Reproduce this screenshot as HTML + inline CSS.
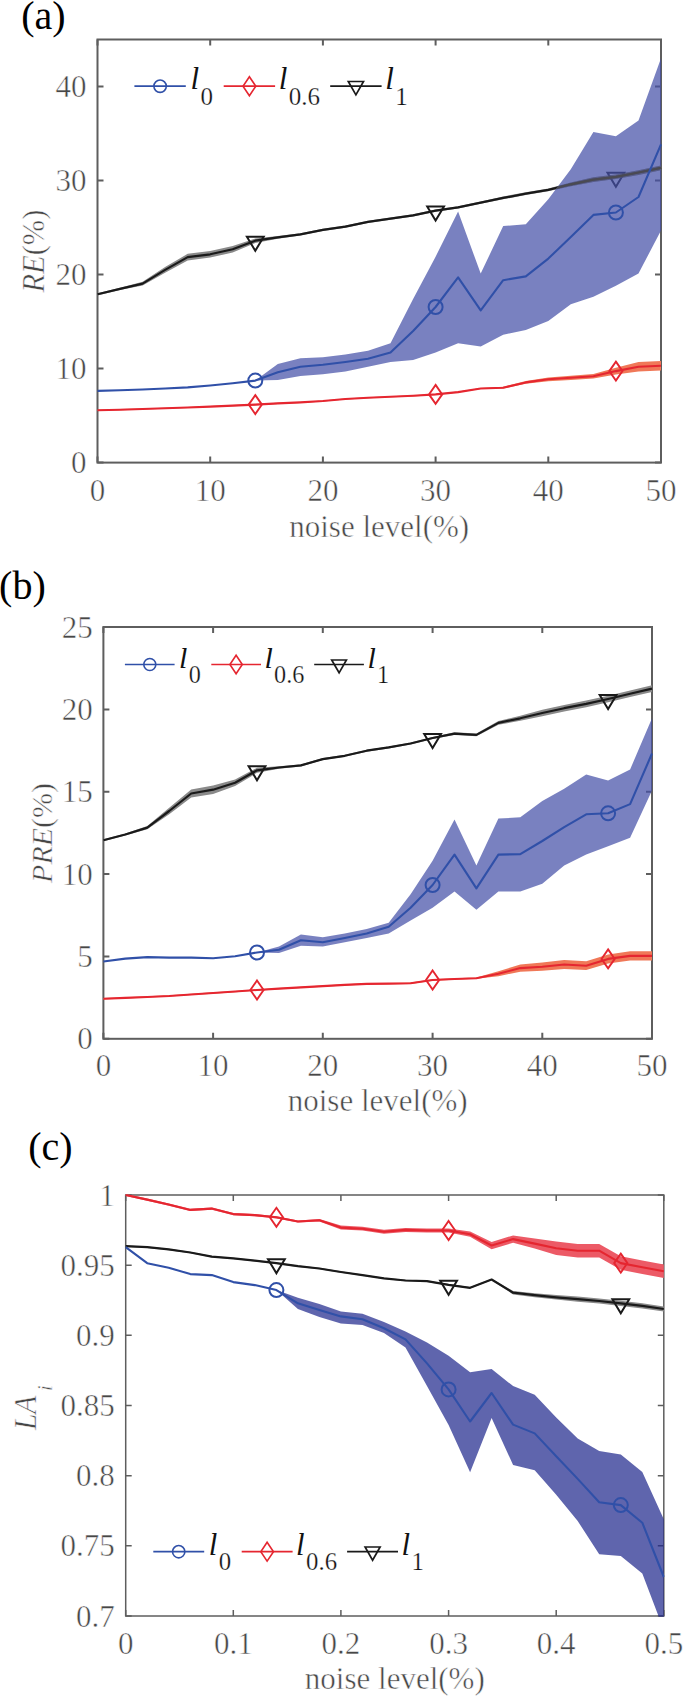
<!DOCTYPE html>
<html><head><meta charset="utf-8"><style>
html,body{margin:0;padding:0;background:#fff;overflow:hidden;width:685px;height:1696px;}
svg{display:block;}
.t{font-family:"Liberation Serif",serif;fill:#474747;stroke:#fff;stroke-width:0.5px;}
.lg{fill:#111;}
.p{font-family:"Liberation Serif",serif;fill:#000;}
</style></head><body>
<svg width="685" height="1696" viewBox="0 0 685 1696">
<rect width="685" height="1696" fill="#fff"/>
<rect x="97.5" y="39.5" width="563.5" height="423.1" fill="none" stroke="#5e5e5e" stroke-width="2.0"/>
<path d="M97.5,462.6v-6M97.5,39.5v6M210.2,462.6v-6M210.2,39.5v6M322.9,462.6v-6M322.9,39.5v6M435.6,462.6v-6M435.6,39.5v6M548.3,462.6v-6M548.3,39.5v6M661.0,462.6v-6M661.0,39.5v6M97.5,462.6h6M661.0,462.6h-6M97.5,368.6h6M661.0,368.6h-6M97.5,274.6h6M661.0,274.6h-6M97.5,180.5h6M661.0,180.5h-6M97.5,86.5h6M661.0,86.5h-6" stroke="#5e5e5e" stroke-width="2.0" fill="none"/>
<clipPath id="clipa"><rect x="96.5" y="38.5" width="565.5" height="425.1"/></clipPath>
<g clip-path="url(#clipa)">
<polygon points="97.5,293.2 120.0,287.8 142.6,281.7 165.1,267.0 187.7,253.8 210.2,251.1 232.7,245.9 255.3,238.4 277.8,236.0 300.4,233.3 322.9,228.8 345.4,225.5 368.0,220.8 390.5,217.5 413.1,214.2 435.6,209.5 458.1,206.2 480.7,201.5 503.2,196.5 525.8,192.3 548.3,188.5 570.8,182.4 593.4,177.2 615.9,174.4 638.5,170.2 661.0,165.5 661.0,170.2 638.5,174.9 615.9,179.1 593.4,181.9 570.8,186.2 548.3,191.3 525.8,195.1 503.2,199.3 480.7,203.8 458.1,208.5 435.6,211.7 413.1,216.4 390.5,219.7 368.0,223.0 345.4,227.7 322.9,231.0 300.4,235.5 277.8,238.8 255.3,243.1 232.7,252.5 210.2,257.6 187.7,260.4 165.1,272.7 142.6,285.5 120.0,290.1 97.5,295.4" fill="#8a8a8a" />
<polyline points="97.5,294.3 120.0,288.9 142.6,283.6 165.1,269.9 187.7,257.1 210.2,254.3 232.7,249.2 255.3,240.7 277.8,237.4 300.4,234.4 322.9,229.9 345.4,226.6 368.0,221.9 390.5,218.6 413.1,215.3 435.6,210.6 458.1,207.3 480.7,202.6 503.2,197.9 525.8,193.7 548.3,189.9 570.8,184.3 593.4,179.6 615.9,176.8 638.5,172.5 661.0,167.8" fill="none" stroke="#1A1A1A" stroke-width="2.2" stroke-linejoin="round"/>
<polygon points="246.9,236.7 263.7,236.7 255.3,250.7" fill="none" stroke="#1A1A1A" stroke-width="2" stroke-linejoin="miter"/>
<polygon points="427.2,206.6 444.0,206.6 435.6,220.6" fill="none" stroke="#1A1A1A" stroke-width="2" stroke-linejoin="miter"/>
<polygon points="607.5,172.8 624.3,172.8 615.9,186.8" fill="none" stroke="#1A1A1A" stroke-width="2" stroke-linejoin="miter"/>
<polygon points="97.5,409.7 120.0,409.1 142.6,408.4 165.1,407.7 187.7,406.9 210.2,406.0 232.7,405.1 255.3,404.0 277.8,402.8 300.4,401.9 322.9,400.5 345.4,398.5 368.0,397.2 390.5,396.2 413.1,395.3 435.6,393.9 458.1,391.5 480.7,387.9 503.2,386.7 525.8,381.0 548.3,377.4 570.8,375.7 593.4,373.9 615.9,367.8 638.5,362.0 661.0,361.1 661.0,370.5 638.5,371.4 615.9,374.4 593.4,378.6 570.8,379.9 548.3,381.2 525.8,383.8 503.2,388.6 480.7,389.1 458.1,392.6 435.6,395.0 413.1,396.4 390.5,397.3 368.0,398.3 345.4,399.6 322.9,401.6 300.4,403.0 277.8,403.9 255.3,405.2 232.7,406.2 210.2,407.1 187.7,408.1 165.1,408.8 142.6,409.6 120.0,410.2 97.5,410.8" fill="#F07858" />
<polyline points="97.5,410.2 120.0,409.7 142.6,409.0 165.1,408.3 187.7,407.5 210.2,406.6 232.7,405.6 255.3,404.6 277.8,403.4 300.4,402.4 322.9,401.0 345.4,399.0 368.0,397.7 390.5,396.8 413.1,395.8 435.6,394.4 458.1,392.1 480.7,388.5 503.2,387.7 525.8,382.4 548.3,379.3 570.8,377.8 593.4,376.3 615.9,371.1 638.5,366.7 661.0,365.8" fill="none" stroke="#E52630" stroke-width="2.1" stroke-linejoin="round"/>
<polygon points="255.3,395.1 261.9,404.6 255.3,414.1 248.7,404.6" fill="none" stroke="#E52630" stroke-width="1.9"/>
<polygon points="435.6,384.9 442.2,394.4 435.6,403.9 429.0,394.4" fill="none" stroke="#E52630" stroke-width="1.9"/>
<polygon points="615.9,361.6 622.5,371.1 615.9,380.6 609.3,371.1" fill="none" stroke="#E52630" stroke-width="1.9"/>
<polygon points="97.5,390.9 120.0,390.2 142.6,389.5 165.1,388.5 187.7,387.4 210.2,385.5 232.7,383.2 255.3,380.6 277.8,363.9 300.4,358.2 322.9,357.3 345.4,354.5 368.0,350.7 390.5,343.2 413.1,299.0 435.6,256.7 458.1,211.6 480.7,273.6 503.2,226.1 525.8,224.3 548.3,199.3 570.8,169.3 593.4,132.1 615.9,136.3 638.5,120.4 661.0,58.3 661.0,230.4 638.5,273.6 615.9,285.8 593.4,296.7 570.8,304.2 548.3,321.1 525.8,330.0 503.2,334.7 480.7,346.5 458.1,343.2 435.6,352.6 413.1,360.1 390.5,362.0 368.0,366.7 345.4,371.4 322.9,374.2 300.4,376.1 277.8,379.9 255.3,380.6 232.7,383.2 210.2,385.5 187.7,387.4 165.1,388.5 142.6,389.5 120.0,390.2 97.5,390.9" fill="#4550A8" fill-opacity="0.72"/>
<clipPath id="bca"><polygon points="97.5,390.9 120.0,390.2 142.6,389.5 165.1,388.5 187.7,387.4 210.2,385.5 232.7,383.2 255.3,380.6 277.8,363.9 300.4,358.2 322.9,357.3 345.4,354.5 368.0,350.7 390.5,343.2 413.1,299.0 435.6,256.7 458.1,211.6 480.7,273.6 503.2,226.1 525.8,224.3 548.3,199.3 570.8,169.3 593.4,132.1 615.9,136.3 638.5,120.4 661.0,58.3 661.0,230.4 638.5,273.6 615.9,285.8 593.4,296.7 570.8,304.2 548.3,321.1 525.8,330.0 503.2,334.7 480.7,346.5 458.1,343.2 435.6,352.6 413.1,360.1 390.5,362.0 368.0,366.7 345.4,371.4 322.9,374.2 300.4,376.1 277.8,379.9 255.3,380.6 232.7,383.2 210.2,385.5 187.7,387.4 165.1,388.5 142.6,389.5 120.0,390.2 97.5,390.9"/></clipPath>
<g clip-path="url(#bca)">
<polygon points="97.5,293.2 120.0,287.8 142.6,281.7 165.1,267.0 187.7,253.8 210.2,251.1 232.7,245.9 255.3,238.4 277.8,236.0 300.4,233.3 322.9,228.8 345.4,225.5 368.0,220.8 390.5,217.5 413.1,214.2 435.6,209.5 458.1,206.2 480.7,201.5 503.2,196.5 525.8,192.3 548.3,188.5 570.8,182.4 593.4,177.2 615.9,174.4 638.5,170.2 661.0,165.5 661.0,170.2 638.5,174.9 615.9,179.1 593.4,181.9 570.8,186.2 548.3,191.3 525.8,195.1 503.2,199.3 480.7,203.8 458.1,208.5 435.6,211.7 413.1,216.4 390.5,219.7 368.0,223.0 345.4,227.7 322.9,231.0 300.4,235.5 277.8,238.8 255.3,243.1 232.7,252.5 210.2,257.6 187.7,260.4 165.1,272.7 142.6,285.5 120.0,290.1 97.5,295.4" fill="#5a5a66" fill-opacity="0.4"/>
<polyline points="97.5,294.3 120.0,288.9 142.6,283.6 165.1,269.9 187.7,257.1 210.2,254.3 232.7,249.2 255.3,240.7 277.8,237.4 300.4,234.4 322.9,229.9 345.4,226.6 368.0,221.9 390.5,218.6 413.1,215.3 435.6,210.6 458.1,207.3 480.7,202.6 503.2,197.9 525.8,193.7 548.3,189.9 570.8,184.3 593.4,179.6 615.9,176.8 638.5,172.5 661.0,167.8" fill="none" stroke="#4a4a52" stroke-width="2.2" stroke-linejoin="round"/>
</g>
<polyline points="97.5,390.9 120.0,390.2 142.6,389.5 165.1,388.5 187.7,387.4 210.2,385.5 232.7,383.2 255.3,380.6 277.8,372.3 300.4,366.7 322.9,364.8 345.4,362.0 368.0,358.7 390.5,352.6 413.1,331.0 435.6,307.0 458.1,277.4 480.7,310.3 503.2,280.2 525.8,276.4 548.3,258.6 570.8,236.9 593.4,214.9 615.9,212.5 638.5,197.0 661.0,144.3" fill="none" stroke="#3050A8" stroke-width="2.1" stroke-linejoin="round"/>
<circle cx="255.3" cy="380.6" r="7" fill="none" stroke="#3050A8" stroke-width="2"/>
<circle cx="435.6" cy="307.0" r="7" fill="none" stroke="#3050A8" stroke-width="2"/>
<circle cx="615.9" cy="212.5" r="7" fill="none" stroke="#3050A8" stroke-width="2"/>
</g>
<rect x="103.4" y="627.0" width="548.6" height="411.8" fill="none" stroke="#5e5e5e" stroke-width="2.0"/>
<path d="M103.4,1038.8v-6M103.4,627.0v6M213.1,1038.8v-6M213.1,627.0v6M322.8,1038.8v-6M322.8,627.0v6M432.6,1038.8v-6M432.6,627.0v6M542.3,1038.8v-6M542.3,627.0v6M652.0,1038.8v-6M652.0,627.0v6M103.4,1038.8h6M652.0,1038.8h-6M103.4,956.4h6M652.0,956.4h-6M103.4,874.1h6M652.0,874.1h-6M103.4,791.7h6M652.0,791.7h-6M103.4,709.4h6M652.0,709.4h-6M103.4,627.0h6M652.0,627.0h-6" stroke="#5e5e5e" stroke-width="2.0" fill="none"/>
<clipPath id="clipb"><rect x="102.4" y="626.0" width="550.6" height="413.8"/></clipPath>
<g clip-path="url(#clipb)">
<polygon points="103.4,839.3 125.3,833.6 147.3,826.0 169.2,807.7 191.2,789.4 213.1,785.6 235.1,779.5 257.0,767.8 279.0,766.2 300.9,764.4 322.8,758.1 344.8,754.8 366.7,749.7 388.7,746.4 410.6,742.5 432.6,737.0 454.5,732.3 476.4,733.6 498.4,720.9 520.3,715.8 542.3,709.7 564.2,704.9 586.2,700.6 608.1,695.7 630.1,690.4 652.0,685.3 652.0,691.9 630.1,697.0 608.1,702.3 586.2,707.2 564.2,711.5 542.3,716.3 520.3,720.7 498.4,724.8 476.4,736.2 454.5,734.9 432.6,739.0 410.6,744.4 388.7,748.4 366.7,751.7 344.8,756.8 322.8,760.1 300.9,766.4 279.0,768.8 257.0,772.8 235.1,786.1 213.1,793.9 191.2,797.6 169.2,814.3 147.3,829.3 125.3,835.5 103.4,841.3" fill="#8a8a8a" />
<polyline points="103.4,840.3 125.3,834.5 147.3,827.6 169.2,811.0 191.2,793.5 213.1,789.7 235.1,782.8 257.0,770.3 279.0,767.5 300.9,765.4 322.8,759.1 344.8,755.8 366.7,750.7 388.7,747.4 410.6,743.5 432.6,738.0 454.5,733.6 476.4,734.9 498.4,722.9 520.3,718.3 542.3,713.0 564.2,708.2 586.2,703.9 608.1,699.0 630.1,693.7 652.0,688.6" fill="none" stroke="#1A1A1A" stroke-width="2.2" stroke-linejoin="round"/>
<polygon points="248.6,766.3 265.4,766.3 257.0,780.3" fill="none" stroke="#1A1A1A" stroke-width="2" stroke-linejoin="miter"/>
<polygon points="424.2,734.0 441.0,734.0 432.6,748.0" fill="none" stroke="#1A1A1A" stroke-width="2" stroke-linejoin="miter"/>
<polygon points="599.7,695.0 616.5,695.0 608.1,709.0" fill="none" stroke="#1A1A1A" stroke-width="2" stroke-linejoin="miter"/>
<polygon points="103.4,998.1 125.3,997.3 147.3,996.3 169.2,995.3 191.2,993.8 213.1,992.3 235.1,990.9 257.0,989.4 279.0,987.9 300.9,986.7 322.8,985.4 344.8,984.3 366.7,983.3 388.7,983.0 410.6,982.6 432.6,979.3 454.5,978.3 476.4,977.5 498.4,971.3 520.3,964.5 542.3,962.5 564.2,960.1 586.2,961.2 608.1,954.5 630.1,951.3 652.0,951.3 652.0,960.6 630.1,960.6 608.1,963.4 586.2,970.1 564.2,969.0 542.3,970.8 520.3,971.8 498.4,976.2 476.4,978.8 454.5,979.7 432.6,980.7 410.6,983.9 388.7,984.3 366.7,984.6 344.8,985.6 322.8,986.7 300.9,988.1 279.0,989.2 257.0,990.7 235.1,992.2 213.1,993.7 191.2,995.1 169.2,996.6 147.3,997.6 125.3,998.6 103.4,999.4" fill="#F07858" />
<polyline points="103.4,998.8 125.3,997.9 147.3,997.0 169.2,996.0 191.2,994.5 213.1,993.0 235.1,991.5 257.0,990.0 279.0,988.6 300.9,987.4 322.8,986.1 344.8,984.9 366.7,983.9 388.7,983.6 410.6,983.3 432.6,980.0 454.5,979.0 476.4,978.2 498.4,973.7 520.3,968.1 542.3,966.7 564.2,964.5 586.2,965.7 608.1,958.9 630.1,955.9 652.0,955.9" fill="none" stroke="#E52630" stroke-width="2.1" stroke-linejoin="round"/>
<polygon points="257.0,980.5 263.6,990.0 257.0,999.5 250.4,990.0" fill="none" stroke="#E52630" stroke-width="1.9"/>
<polygon points="432.6,970.5 439.2,980.0 432.6,989.5 426.0,980.0" fill="none" stroke="#E52630" stroke-width="1.9"/>
<polygon points="608.1,949.4 614.7,958.9 608.1,968.4 601.5,958.9" fill="none" stroke="#E52630" stroke-width="1.9"/>
<polygon points="103.4,961.5 125.3,958.6 147.3,957.1 169.2,957.6 191.2,957.6 213.1,958.3 235.1,956.3 257.0,952.5 279.0,946.4 300.9,934.5 322.8,937.3 344.8,933.5 366.7,928.9 388.7,922.8 410.6,894.3 432.6,860.7 454.5,819.4 476.4,865.5 498.4,818.6 520.3,817.3 542.3,801.1 564.2,788.8 586.2,774.4 608.1,780.5 630.1,769.5 652.0,718.3 652.0,790.4 630.1,837.8 608.1,846.2 586.2,854.6 564.2,865.5 542.3,883.8 520.3,891.5 498.4,891.5 476.4,909.8 454.5,891.5 432.6,907.7 410.6,920.5 388.7,933.5 366.7,938.0 344.8,942.3 322.8,946.4 300.9,945.7 279.0,953.1 257.0,952.5 235.1,956.3 213.1,958.3 191.2,957.6 169.2,957.6 147.3,957.1 125.3,958.6 103.4,961.5" fill="#4550A8" fill-opacity="0.72"/>
<clipPath id="bcb"><polygon points="103.4,961.5 125.3,958.6 147.3,957.1 169.2,957.6 191.2,957.6 213.1,958.3 235.1,956.3 257.0,952.5 279.0,946.4 300.9,934.5 322.8,937.3 344.8,933.5 366.7,928.9 388.7,922.8 410.6,894.3 432.6,860.7 454.5,819.4 476.4,865.5 498.4,818.6 520.3,817.3 542.3,801.1 564.2,788.8 586.2,774.4 608.1,780.5 630.1,769.5 652.0,718.3 652.0,790.4 630.1,837.8 608.1,846.2 586.2,854.6 564.2,865.5 542.3,883.8 520.3,891.5 498.4,891.5 476.4,909.8 454.5,891.5 432.6,907.7 410.6,920.5 388.7,933.5 366.7,938.0 344.8,942.3 322.8,946.4 300.9,945.7 279.0,953.1 257.0,952.5 235.1,956.3 213.1,958.3 191.2,957.6 169.2,957.6 147.3,957.1 125.3,958.6 103.4,961.5"/></clipPath>
<g clip-path="url(#bcb)">
<polygon points="103.4,839.3 125.3,833.6 147.3,826.0 169.2,807.7 191.2,789.4 213.1,785.6 235.1,779.5 257.0,767.8 279.0,766.2 300.9,764.4 322.8,758.1 344.8,754.8 366.7,749.7 388.7,746.4 410.6,742.5 432.6,737.0 454.5,732.3 476.4,733.6 498.4,720.9 520.3,715.8 542.3,709.7 564.2,704.9 586.2,700.6 608.1,695.7 630.1,690.4 652.0,685.3 652.0,691.9 630.1,697.0 608.1,702.3 586.2,707.2 564.2,711.5 542.3,716.3 520.3,720.7 498.4,724.8 476.4,736.2 454.5,734.9 432.6,739.0 410.6,744.4 388.7,748.4 366.7,751.7 344.8,756.8 322.8,760.1 300.9,766.4 279.0,768.8 257.0,772.8 235.1,786.1 213.1,793.9 191.2,797.6 169.2,814.3 147.3,829.3 125.3,835.5 103.4,841.3" fill="#5a5a66" fill-opacity="0.4"/>
<polyline points="103.4,840.3 125.3,834.5 147.3,827.6 169.2,811.0 191.2,793.5 213.1,789.7 235.1,782.8 257.0,770.3 279.0,767.5 300.9,765.4 322.8,759.1 344.8,755.8 366.7,750.7 388.7,747.4 410.6,743.5 432.6,738.0 454.5,733.6 476.4,734.9 498.4,722.9 520.3,718.3 542.3,713.0 564.2,708.2 586.2,703.9 608.1,699.0 630.1,693.7 652.0,688.6" fill="none" stroke="#4a4a52" stroke-width="2.2" stroke-linejoin="round"/>
</g>
<polyline points="103.4,961.5 125.3,958.6 147.3,957.1 169.2,957.6 191.2,957.6 213.1,958.3 235.1,956.3 257.0,952.5 279.0,949.7 300.9,940.3 322.8,942.3 344.8,938.0 366.7,933.5 388.7,926.8 410.6,907.7 432.6,885.0 454.5,854.6 476.4,888.4 498.4,854.6 520.3,854.1 542.3,841.0 564.2,827.1 586.2,814.3 608.1,813.3 630.1,804.1 652.0,753.5" fill="none" stroke="#3050A8" stroke-width="2.1" stroke-linejoin="round"/>
<circle cx="257.0" cy="952.5" r="7" fill="none" stroke="#3050A8" stroke-width="2"/>
<circle cx="432.6" cy="885.0" r="7" fill="none" stroke="#3050A8" stroke-width="2"/>
<circle cx="608.1" cy="813.3" r="7" fill="none" stroke="#3050A8" stroke-width="2"/>
</g>
<rect x="125.7" y="1195.0" width="538.1" height="421.0" fill="none" stroke="#5e5e5e" stroke-width="1.5"/>
<path d="M125.7,1616.0v-6M125.7,1195.0v6M233.3,1616.0v-6M233.3,1195.0v6M340.9,1616.0v-6M340.9,1195.0v6M448.6,1616.0v-6M448.6,1195.0v6M556.2,1616.0v-6M556.2,1195.0v6M663.8,1616.0v-6M663.8,1195.0v6M125.7,1616.0h6M663.8,1616.0h-6M125.7,1545.8h6M663.8,1545.8h-6M125.7,1475.7h6M663.8,1475.7h-6M125.7,1405.5h6M663.8,1405.5h-6M125.7,1335.3h6M663.8,1335.3h-6M125.7,1265.2h6M663.8,1265.2h-6M125.7,1195.0h6M663.8,1195.0h-6" stroke="#5e5e5e" stroke-width="1.5" fill="none"/>
<clipPath id="clipc"><rect x="125.0" y="1194.2" width="539.6" height="422.5"/></clipPath>
<g clip-path="url(#clipc)">
<polygon points="125.7,1245.5 147.2,1246.5 168.7,1248.7 190.3,1251.8 211.8,1256.0 233.3,1257.7 254.8,1260.0 276.4,1262.5 297.9,1265.4 319.4,1267.8 340.9,1271.3 362.5,1274.4 384.0,1277.7 405.5,1279.8 427.0,1280.5 448.6,1284.1 470.1,1287.1 491.6,1278.8 513.1,1291.0 534.7,1293.2 556.2,1295.1 577.7,1296.6 599.2,1298.4 620.8,1300.8 642.3,1303.3 663.8,1306.4 663.8,1311.5 642.3,1308.4 620.8,1305.9 599.2,1303.5 577.7,1301.7 556.2,1299.5 534.7,1297.2 513.1,1294.4 491.6,1280.2 470.1,1288.5 448.6,1285.5 427.0,1281.9 405.5,1281.2 384.0,1279.1 362.5,1275.8 340.9,1272.7 319.4,1269.2 297.9,1266.9 276.4,1263.9 254.8,1261.4 233.3,1259.1 211.8,1257.4 190.3,1253.2 168.7,1250.2 147.2,1247.9 125.7,1246.9" fill="#8a8a8a" />
<polyline points="125.7,1246.2 147.2,1247.2 168.7,1249.4 190.3,1252.5 211.8,1256.7 233.3,1258.4 254.8,1260.7 276.4,1263.2 297.9,1266.1 319.4,1268.5 340.9,1272.0 362.5,1275.1 384.0,1278.4 405.5,1280.5 427.0,1281.2 448.6,1284.8 470.1,1287.8 491.6,1279.5 513.1,1292.7 534.7,1295.2 556.2,1297.3 577.7,1299.1 599.2,1301.0 620.8,1303.3 642.3,1305.9 663.8,1309.0" fill="none" stroke="#1A1A1A" stroke-width="2.2" stroke-linejoin="round"/>
<polygon points="268.0,1259.2 284.8,1259.2 276.4,1273.2" fill="none" stroke="#1A1A1A" stroke-width="2" stroke-linejoin="miter"/>
<polygon points="440.2,1280.8 457.0,1280.8 448.6,1294.8" fill="none" stroke="#1A1A1A" stroke-width="2" stroke-linejoin="miter"/>
<polygon points="612.4,1299.3 629.2,1299.3 620.8,1313.3" fill="none" stroke="#1A1A1A" stroke-width="2" stroke-linejoin="miter"/>
<polygon points="125.7,1193.9 147.2,1198.5 168.7,1203.4 190.3,1208.8 211.8,1207.5 233.3,1213.0 254.8,1213.9 276.4,1216.2 297.9,1220.4 319.4,1219.1 340.9,1225.6 362.5,1226.7 384.0,1229.8 405.5,1228.0 427.0,1228.5 448.6,1228.5 470.1,1231.6 491.6,1241.9 513.1,1235.4 534.7,1238.6 556.2,1241.5 577.7,1244.0 599.2,1244.0 620.8,1256.3 642.3,1260.5 663.8,1264.5 663.8,1277.9 642.3,1274.0 620.8,1269.8 599.2,1257.4 577.7,1257.4 556.2,1254.9 534.7,1248.5 513.1,1242.7 491.6,1249.2 470.1,1236.7 448.6,1232.5 427.0,1232.5 405.5,1231.9 384.0,1233.7 362.5,1230.6 340.9,1229.5 319.4,1221.4 297.9,1222.6 276.4,1218.4 254.8,1216.2 233.3,1215.2 211.8,1209.7 190.3,1211.0 168.7,1205.7 147.2,1200.8 125.7,1196.1" fill="#EC5A66" />
<polyline points="125.7,1195.0 147.2,1199.6 168.7,1204.5 190.3,1209.9 211.8,1208.6 233.3,1214.1 254.8,1215.1 276.4,1217.3 297.9,1221.5 319.4,1220.3 340.9,1227.6 362.5,1228.7 384.0,1231.8 405.5,1229.9 427.0,1230.5 448.6,1230.5 470.1,1234.2 491.6,1245.5 513.1,1239.1 534.7,1243.6 556.2,1248.2 577.7,1250.7 599.2,1250.7 620.8,1263.1 642.3,1267.3 663.8,1271.2" fill="none" stroke="#E52630" stroke-width="2.1" stroke-linejoin="round"/>
<polygon points="276.4,1207.8 283.0,1217.3 276.4,1226.8 269.8,1217.3" fill="none" stroke="#E52630" stroke-width="1.9"/>
<polygon points="448.6,1221.0 455.2,1230.5 448.6,1240.0 442.0,1230.5" fill="none" stroke="#E52630" stroke-width="1.9"/>
<polygon points="620.8,1253.6 627.4,1263.1 620.8,1272.6 614.2,1263.1" fill="none" stroke="#E52630" stroke-width="1.9"/>
<polygon points="125.7,1247.2 147.2,1263.2 168.7,1267.7 190.3,1274.1 211.8,1275.1 233.3,1282.1 254.8,1285.1 276.4,1290.1 297.9,1297.7 319.4,1304.0 340.9,1311.5 362.5,1313.7 384.0,1321.9 405.5,1331.4 427.0,1342.6 448.6,1355.8 470.1,1372.2 491.6,1369.0 513.1,1386.1 534.7,1394.8 556.2,1417.6 577.7,1438.6 599.2,1451.0 620.8,1454.5 642.3,1471.9 663.8,1519.2 663.8,1630.0 642.3,1573.5 620.8,1555.9 599.2,1554.3 577.7,1521.0 556.2,1494.8 534.7,1470.2 513.1,1464.9 491.6,1418.1 470.1,1472.2 448.6,1425.1 427.0,1386.0 405.5,1347.4 384.0,1332.9 362.5,1324.9 340.9,1323.4 319.4,1316.9 297.9,1309.0 276.4,1290.1 254.8,1285.1 233.3,1282.1 211.8,1275.1 190.3,1274.1 168.7,1267.7 147.2,1263.2 125.7,1247.2" fill="#212A8E" fill-opacity="0.72"/>
<clipPath id="bcc"><polygon points="125.7,1247.2 147.2,1263.2 168.7,1267.7 190.3,1274.1 211.8,1275.1 233.3,1282.1 254.8,1285.1 276.4,1290.1 297.9,1297.7 319.4,1304.0 340.9,1311.5 362.5,1313.7 384.0,1321.9 405.5,1331.4 427.0,1342.6 448.6,1355.8 470.1,1372.2 491.6,1369.0 513.1,1386.1 534.7,1394.8 556.2,1417.6 577.7,1438.6 599.2,1451.0 620.8,1454.5 642.3,1471.9 663.8,1519.2 663.8,1630.0 642.3,1573.5 620.8,1555.9 599.2,1554.3 577.7,1521.0 556.2,1494.8 534.7,1470.2 513.1,1464.9 491.6,1418.1 470.1,1472.2 448.6,1425.1 427.0,1386.0 405.5,1347.4 384.0,1332.9 362.5,1324.9 340.9,1323.4 319.4,1316.9 297.9,1309.0 276.4,1290.1 254.8,1285.1 233.3,1282.1 211.8,1275.1 190.3,1274.1 168.7,1267.7 147.2,1263.2 125.7,1247.2"/></clipPath>
<g clip-path="url(#bcc)">
<polygon points="125.7,1245.5 147.2,1246.5 168.7,1248.7 190.3,1251.8 211.8,1256.0 233.3,1257.7 254.8,1260.0 276.4,1262.5 297.9,1265.4 319.4,1267.8 340.9,1271.3 362.5,1274.4 384.0,1277.7 405.5,1279.8 427.0,1280.5 448.6,1284.1 470.1,1287.1 491.6,1278.8 513.1,1291.0 534.7,1293.2 556.2,1295.1 577.7,1296.6 599.2,1298.4 620.8,1300.8 642.3,1303.3 663.8,1306.4 663.8,1311.5 642.3,1308.4 620.8,1305.9 599.2,1303.5 577.7,1301.7 556.2,1299.5 534.7,1297.2 513.1,1294.4 491.6,1280.2 470.1,1288.5 448.6,1285.5 427.0,1281.9 405.5,1281.2 384.0,1279.1 362.5,1275.8 340.9,1272.7 319.4,1269.2 297.9,1266.9 276.4,1263.9 254.8,1261.4 233.3,1259.1 211.8,1257.4 190.3,1253.2 168.7,1250.2 147.2,1247.9 125.7,1246.9" fill="#5a5a66" fill-opacity="0.4"/>
<polyline points="125.7,1246.2 147.2,1247.2 168.7,1249.4 190.3,1252.5 211.8,1256.7 233.3,1258.4 254.8,1260.7 276.4,1263.2 297.9,1266.1 319.4,1268.5 340.9,1272.0 362.5,1275.1 384.0,1278.4 405.5,1280.5 427.0,1281.2 448.6,1284.8 470.1,1287.8 491.6,1279.5 513.1,1292.7 534.7,1295.2 556.2,1297.3 577.7,1299.1 599.2,1301.0 620.8,1303.3 642.3,1305.9 663.8,1309.0" fill="none" stroke="#4a4a52" stroke-width="2.2" stroke-linejoin="round"/>
</g>
<polyline points="125.7,1247.2 147.2,1263.2 168.7,1267.7 190.3,1274.1 211.8,1275.1 233.3,1282.1 254.8,1285.1 276.4,1290.1 297.9,1303.3 319.4,1310.1 340.9,1316.4 362.5,1319.2 384.0,1328.2 405.5,1339.4 427.0,1363.4 448.6,1389.4 470.1,1421.5 491.6,1393.0 513.1,1424.6 534.7,1433.4 556.2,1456.2 577.7,1478.9 599.2,1502.3 620.8,1505.1 642.3,1522.7 663.8,1577.0" fill="none" stroke="#3050A8" stroke-width="2.1" stroke-linejoin="round"/>
<circle cx="276.4" cy="1290.1" r="7" fill="none" stroke="#3050A8" stroke-width="2"/>
<circle cx="448.6" cy="1389.4" r="7" fill="none" stroke="#3050A8" stroke-width="2"/>
<circle cx="620.8" cy="1505.1" r="7" fill="none" stroke="#3050A8" stroke-width="2"/>
</g>
<text x="97.5" y="500.6" text-anchor="middle" class="t" font-size="31">0</text>
<text x="210.2" y="500.6" text-anchor="middle" class="t" font-size="31">10</text>
<text x="322.9" y="500.6" text-anchor="middle" class="t" font-size="31">20</text>
<text x="435.6" y="500.6" text-anchor="middle" class="t" font-size="31">30</text>
<text x="548.3" y="500.6" text-anchor="middle" class="t" font-size="31">40</text>
<text x="661.0" y="500.6" text-anchor="middle" class="t" font-size="31">50</text>
<text x="86.6" y="473.2" text-anchor="end" class="t" font-size="31">0</text>
<text x="86.6" y="379.2" text-anchor="end" class="t" font-size="31">10</text>
<text x="86.6" y="285.2" text-anchor="end" class="t" font-size="31">20</text>
<text x="86.6" y="191.1" text-anchor="end" class="t" font-size="31">30</text>
<text x="86.6" y="97.1" text-anchor="end" class="t" font-size="31">40</text>
<text x="103.4" y="1076" text-anchor="middle" class="t" font-size="31">0</text>
<text x="213.1" y="1076" text-anchor="middle" class="t" font-size="31">10</text>
<text x="322.8" y="1076" text-anchor="middle" class="t" font-size="31">20</text>
<text x="432.6" y="1076" text-anchor="middle" class="t" font-size="31">30</text>
<text x="542.3" y="1076" text-anchor="middle" class="t" font-size="31">40</text>
<text x="652.0" y="1076" text-anchor="middle" class="t" font-size="31">50</text>
<text x="92.8" y="1049.4" text-anchor="end" class="t" font-size="31">0</text>
<text x="92.8" y="967.0" text-anchor="end" class="t" font-size="31">5</text>
<text x="92.8" y="884.7" text-anchor="end" class="t" font-size="31">10</text>
<text x="92.8" y="802.3" text-anchor="end" class="t" font-size="31">15</text>
<text x="92.8" y="720.0" text-anchor="end" class="t" font-size="31">20</text>
<text x="92.8" y="637.6" text-anchor="end" class="t" font-size="31">25</text>
<text x="125.7" y="1654.2" text-anchor="middle" class="t" font-size="31">0</text>
<text x="233.3" y="1654.2" text-anchor="middle" class="t" font-size="31">0.1</text>
<text x="340.9" y="1654.2" text-anchor="middle" class="t" font-size="31">0.2</text>
<text x="448.6" y="1654.2" text-anchor="middle" class="t" font-size="31">0.3</text>
<text x="556.2" y="1654.2" text-anchor="middle" class="t" font-size="31">0.4</text>
<text x="663.8" y="1654.2" text-anchor="middle" class="t" font-size="31">0.5</text>
<text x="114.8" y="1626.6" text-anchor="end" class="t" font-size="31">0.7</text>
<text x="114.8" y="1556.4" text-anchor="end" class="t" font-size="31">0.75</text>
<text x="114.8" y="1486.3" text-anchor="end" class="t" font-size="31">0.8</text>
<text x="114.8" y="1416.1" text-anchor="end" class="t" font-size="31">0.85</text>
<text x="114.8" y="1345.9" text-anchor="end" class="t" font-size="31">0.9</text>
<text x="114.8" y="1275.8" text-anchor="end" class="t" font-size="31">0.95</text>
<text x="114.8" y="1205.6" text-anchor="end" class="t" font-size="31">1</text>
<text x="379.2" y="537.3" text-anchor="middle" class="t" font-size="31">noise level(%)</text>
<text x="377.7" y="1111.2" text-anchor="middle" class="t" font-size="31">noise level(%)</text>
<text x="394.8" y="1689.4" text-anchor="middle" class="t" font-size="31">noise level(%)</text>
<text transform="translate(43.8,251.1) rotate(-90)" text-anchor="middle" class="t" font-size="30.5"><tspan font-style="italic">RE</tspan>(%)</text>
<text transform="translate(51.6,832.9) rotate(-90)" text-anchor="middle" class="t" font-size="30"><tspan font-style="italic">PRE</tspan>(%)</text>
<text transform="translate(35.8,1430) rotate(-90) scale(0.92,1)" class="t" font-size="32"><tspan font-style="italic">LA</tspan><tspan font-style="italic" font-size="22" dx="5" dy="15.7">i</tspan></text>
<text transform="translate(21.2,28.7)" class="p" font-size="40">(a)</text>
<text transform="translate(-0.9,598.8)" class="p" font-size="40">(b)</text>
<text transform="translate(28.2,1160.2)" class="p" font-size="40">(c)</text>
<line x1="134.4" y1="86.2" x2="185.8" y2="86.2" stroke="#3050A8" stroke-width="1.7"/>
<circle cx="160.1" cy="86.2" r="6.20" fill="none" stroke="#3050A8" stroke-width="1.6"/>
<text x="190.5" y="89.2" class="t lg" style="stroke:none" font-size="31.0" font-style="italic">l</text>
<text x="200.5" y="105.4" class="t lg" style="stroke-width:0.25px" font-size="25.0">0</text>
<line x1="223.7" y1="86.2" x2="275.1" y2="86.2" stroke="#E52630" stroke-width="1.7"/>
<polygon points="249.4,76.7 255.8,86.2 249.4,95.7 243.0,86.2" fill="none" stroke="#E52630" stroke-width="1.6"/>
<text x="278.7" y="89.2" class="t lg" style="stroke:none" font-size="31.0" font-style="italic">l</text>
<text x="288.7" y="105.4" class="t lg" style="stroke-width:0.25px" font-size="25.0">0.6</text>
<line x1="330.2" y1="86.2" x2="381.6" y2="86.2" stroke="#1A1A1A" stroke-width="1.7"/>
<polygon points="348.3,81.5 363.5,81.5 355.9,94.8" fill="none" stroke="#1A1A1A" stroke-width="1.7"/>
<text x="385.2" y="89.2" class="t lg" style="stroke:none" font-size="31.0" font-style="italic">l</text>
<text x="395.2" y="105.4" class="t lg" style="stroke-width:0.25px" font-size="25.0">1</text>
<line x1="124.9" y1="664.5" x2="174.6" y2="664.5" stroke="#3050A8" stroke-width="1.7"/>
<circle cx="149.8" cy="664.5" r="6.00" fill="none" stroke="#3050A8" stroke-width="1.6"/>
<text x="179.1" y="667.9" class="t lg" style="stroke:none" font-size="30.0" font-style="italic">l</text>
<text x="188.8" y="682.7" class="t lg" style="stroke-width:0.25px" font-size="24.2">0</text>
<line x1="211.3" y1="664.5" x2="261.0" y2="664.5" stroke="#E52630" stroke-width="1.7"/>
<polygon points="236.1,655.3 242.3,664.5 236.1,673.7 229.9,664.5" fill="none" stroke="#E52630" stroke-width="1.6"/>
<text x="264.4" y="667.9" class="t lg" style="stroke:none" font-size="30.0" font-style="italic">l</text>
<text x="274.1" y="682.7" class="t lg" style="stroke-width:0.25px" font-size="24.2">0.6</text>
<line x1="314.2" y1="664.5" x2="363.9" y2="664.5" stroke="#1A1A1A" stroke-width="1.7"/>
<polygon points="331.7,660.0 346.4,660.0 339.1,672.8" fill="none" stroke="#1A1A1A" stroke-width="1.7"/>
<text x="367.4" y="667.9" class="t lg" style="stroke:none" font-size="30.0" font-style="italic">l</text>
<text x="377.1" y="682.7" class="t lg" style="stroke-width:0.25px" font-size="24.2">1</text>
<line x1="153.3" y1="1551.7" x2="204.2" y2="1551.7" stroke="#3050A8" stroke-width="1.7"/>
<circle cx="178.7" cy="1551.7" r="6.14" fill="none" stroke="#3050A8" stroke-width="1.6"/>
<text x="208.8" y="1554.6" class="t lg" style="stroke:none" font-size="30.7" font-style="italic">l</text>
<text x="218.7" y="1569.9" class="t lg" style="stroke-width:0.25px" font-size="24.8">0</text>
<line x1="241.7" y1="1551.7" x2="292.6" y2="1551.7" stroke="#E52630" stroke-width="1.7"/>
<polygon points="267.1,1542.3 273.5,1551.7 267.1,1561.1 260.8,1551.7" fill="none" stroke="#E52630" stroke-width="1.6"/>
<text x="296.1" y="1554.6" class="t lg" style="stroke:none" font-size="30.7" font-style="italic">l</text>
<text x="306.1" y="1569.9" class="t lg" style="stroke-width:0.25px" font-size="24.8">0.6</text>
<line x1="347.1" y1="1551.7" x2="398.0" y2="1551.7" stroke="#1A1A1A" stroke-width="1.7"/>
<polygon points="365.1,1547.0 380.1,1547.0 372.6,1560.2" fill="none" stroke="#1A1A1A" stroke-width="1.7"/>
<text x="401.6" y="1554.6" class="t lg" style="stroke:none" font-size="30.7" font-style="italic">l</text>
<text x="411.5" y="1569.9" class="t lg" style="stroke-width:0.25px" font-size="24.8">1</text>
</svg>
</body></html>
